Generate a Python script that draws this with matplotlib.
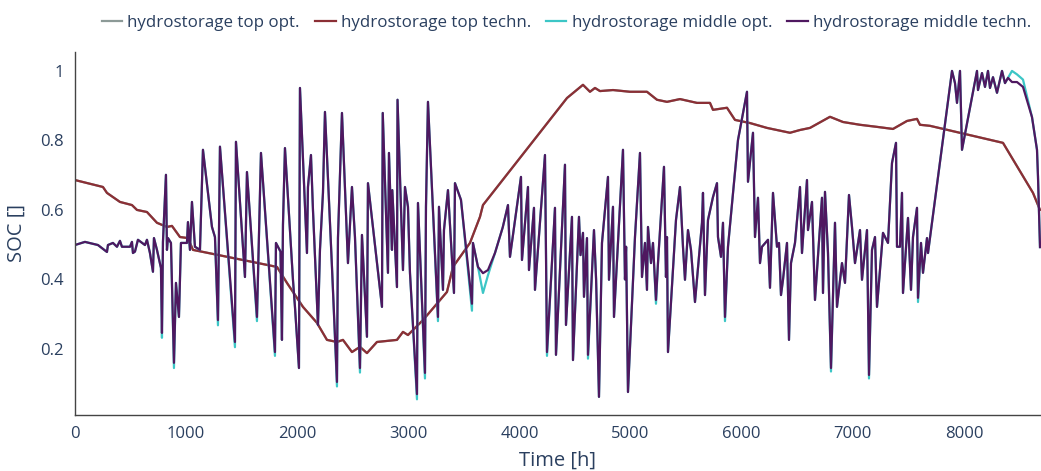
import matplotlib
matplotlib.use("Agg")
import matplotlib.pyplot as plt

# top reservoir (technical run); the optimisation run follows the same path
top_hours = [0, 252, 288, 405, 513, 558, 648, 738, 828, 873, 945, 1017, 1062,
             1818, 1908, 2052, 2178, 2268, 2358, 2412, 2493, 2565, 2628, 2718,
             2898, 2952, 2997, 3132, 3348, 3402, 3555, 3645, 3672, 4428, 4572,
             4635, 4680, 4725, 4842, 4995, 5148, 5238, 5328, 5445, 5598, 5715,
             5742, 5868, 5940, 6075, 6228, 6435, 6525, 6615, 6795, 6912, 7065,
             7218, 7362, 7488, 7578, 7605, 7695, 8352, 8622, 8685]
top_techn = [0.686, 0.666, 0.649, 0.623, 0.614, 0.600, 0.594, 0.563, 0.551,
             0.554, 0.522, 0.519, 0.485, 0.436, 0.390, 0.321, 0.275, 0.226,
             0.220, 0.226, 0.191, 0.206, 0.188, 0.220, 0.226, 0.249, 0.240,
             0.283, 0.364, 0.436, 0.505, 0.580, 0.614, 0.922, 0.960, 0.940,
             0.951, 0.942, 0.945, 0.940, 0.940, 0.917, 0.911, 0.919, 0.908,
             0.908, 0.888, 0.894, 0.859, 0.850, 0.836, 0.822, 0.830, 0.836,
             0.868, 0.853, 0.845, 0.839, 0.833, 0.856, 0.862, 0.845, 0.842,
             0.793, 0.649, 0.600]
top_opt = list(top_techn)

# middle reservoir (technical run)
mid_hours = [0, 90, 207, 288, 297, 342, 378, 405, 423, 495, 513, 522, 540, 567,
             630, 648, 675, 702, 711, 738, 774, 783, 792, 819, 828, 837, 864,
             891, 909, 936, 954, 1008, 1017, 1035, 1053, 1080, 1125, 1152, 1233,
             1260, 1287, 1305, 1440, 1449, 1530, 1548, 1638, 1674, 1800, 1809,
             1850, 1863, 1872, 1890, 1962, 1980, 2016, 2025, 2088, 2097, 2124,
             2142, 2187, 2205, 2232, 2250, 2313, 2358, 2367, 2403, 2457, 2493,
             2520, 2565, 2583, 2628, 2637, 2763, 2770, 2817, 2826, 2853, 2856,
             2898, 2903, 2952, 2970, 2997, 3015, 3078, 3087, 3150, 3159, 3177,
             3267, 3276, 3312, 3321, 3357, 3411, 3420, 3474, 3573, 3582, 3627,
             3672, 3717, 3780, 3850, 3897, 3915, 4014, 4023, 4077, 4086, 4131,
             4140, 4230, 4240, 4248, 4320, 4329, 4410, 4419, 4473, 4482, 4536,
             4550, 4572, 4581, 4608, 4617, 4671, 4690, 4716, 4743, 4797, 4806,
             4842, 4851, 4932, 4950, 4960, 4977, 5040, 5085, 5103, 5130, 5148,
             5157, 5184, 5202, 5229, 5247, 5301, 5319, 5328, 5337, 5409, 5445,
             5472, 5490, 5517, 5544, 5580, 5643, 5652, 5670, 5697, 5742, 5778,
             5787, 5814, 5832, 5850, 5877, 5967, 6048, 6057, 6102, 6120, 6147,
             6165, 6183, 6237, 6255, 6282, 6318, 6336, 6354, 6372, 6408, 6426,
             6444, 6480, 6525, 6543, 6588, 6597, 6633, 6660, 6723, 6732, 6750,
             6777, 6804, 6840, 6858, 6903, 6930, 6966, 6993, 7020, 7065, 7083,
             7128, 7146, 7173, 7200, 7218, 7272, 7317, 7353, 7389, 7398, 7425,
             7443, 7452, 7497, 7524, 7542, 7578, 7587, 7614, 7632, 7668, 7677,
             7893, 7920, 7938, 7965, 7983, 8118, 8127, 8163, 8190, 8217, 8235,
             8262, 8298, 8343, 8370, 8397, 8433, 8478, 8532, 8613, 8658, 8667,
             8685]
mid_techn = [0.499, 0.508, 0.499, 0.479, 0.499, 0.505, 0.494, 0.511, 0.494,
             0.494, 0.508, 0.476, 0.480, 0.514, 0.499, 0.514, 0.476, 0.422,
             0.519, 0.485, 0.433, 0.246, 0.508, 0.701, 0.485, 0.519, 0.505,
             0.160, 0.390, 0.292, 0.505, 0.505, 0.565, 0.485, 0.623, 0.494,
             0.485, 0.773, 0.551, 0.522, 0.283, 0.782, 0.220, 0.796, 0.407,
             0.709, 0.292, 0.764, 0.191, 0.505, 0.480, 0.226, 0.557, 0.778,
             0.399, 0.321, 0.145, 0.951, 0.476, 0.666, 0.758, 0.600, 0.269,
             0.485, 0.649, 0.882, 0.436, 0.105, 0.519, 0.879, 0.447, 0.666,
             0.522, 0.145, 0.528, 0.235, 0.677, 0.321, 0.879, 0.419, 0.764,
             0.485, 0.657, 0.378, 0.917, 0.427, 0.666, 0.609, 0.419, 0.070,
             0.620, 0.131, 0.609, 0.911, 0.292, 0.609, 0.370, 0.542, 0.657,
             0.361, 0.677, 0.629, 0.330, 0.505, 0.436, 0.418, 0.427, 0.476,
             0.550, 0.614, 0.465, 0.695, 0.456, 0.666, 0.427, 0.606, 0.370,
             0.758, 0.456, 0.191, 0.606, 0.183, 0.730, 0.269, 0.580, 0.168,
             0.580, 0.470, 0.534, 0.350, 0.519, 0.183, 0.542, 0.400, 0.062,
             0.505, 0.695, 0.399, 0.609, 0.292, 0.773, 0.400, 0.494, 0.076,
             0.522, 0.764, 0.407, 0.505, 0.370, 0.551, 0.447, 0.505, 0.341,
             0.447, 0.724, 0.407, 0.522, 0.191, 0.571, 0.666, 0.494, 0.399,
             0.542, 0.485, 0.335, 0.563, 0.649, 0.355, 0.571, 0.637, 0.677,
             0.522, 0.465, 0.563, 0.292, 0.494, 0.801, 0.940, 0.681, 0.822,
             0.522, 0.635, 0.447, 0.494, 0.514, 0.376, 0.649, 0.494, 0.505,
             0.355, 0.399, 0.505, 0.226, 0.447, 0.505, 0.666, 0.476, 0.686,
             0.542, 0.623, 0.341, 0.635, 0.361, 0.652, 0.476, 0.145, 0.563,
             0.321, 0.447, 0.390, 0.643, 0.551, 0.447, 0.542, 0.399, 0.542,
             0.125, 0.485, 0.522, 0.321, 0.534, 0.505, 0.735, 0.793, 0.494,
             0.494, 0.649, 0.361, 0.577, 0.370, 0.522, 0.606, 0.347, 0.505,
             0.419, 0.519, 0.476, 1.000, 0.965, 0.908, 1.000, 0.773, 1.000,
             0.945, 0.994, 0.954, 1.000, 0.951, 0.982, 0.937, 1.000, 0.965,
             0.980, 0.968, 0.968, 0.954, 0.867, 0.773, 0.695, 0.493]

# hours where the optimisation run of the middle reservoir differs
mid_opt_diff = {783: 0.232, 891: 0.145, 1287: 0.268, 1440: 0.205, 1638: 0.280,
                1800: 0.180, 2358: 0.092, 2565: 0.132, 3078: 0.055, 3150: 0.115,
                3267: 0.280, 3573: 0.310, 3672: 0.361, 3717: 0.412, 4248: 0.180,
                4617: 0.172, 5229: 0.330, 5850: 0.280, 6804: 0.135, 7146: 0.115,
                7587: 0.335, 8433: 1.000, 8478: 0.990, 8532: 0.975}
mid_opt = [mid_opt_diff.get(h, v) for h, v in zip(mid_hours, mid_techn)]

text_color = "#2a3f5f"
plt.rcParams["font.family"] = ["Open Sans", "DejaVu Sans"]

fig = plt.figure(figsize=(10.41, 4.71), dpi=100)
ax = fig.add_axes([0.072, 0.119, 0.928, 0.771])

ax.plot(top_hours, top_opt, color="#8c9a97", lw=1.6, label="hydrostorage top opt.")
ax.plot(top_hours, top_techn, color="#8b2f35", lw=1.6, label="hydrostorage top techn.")
ax.plot(mid_hours, mid_opt, color="#3cc6c6", lw=1.6, label="hydrostorage middle opt.")
ax.plot(mid_hours, mid_techn, color="#4f1860", lw=1.6, label="hydrostorage middle techn.")

ax.set_xlim(0, 8694)
ax.set_ylim(0.010, 1.055)
ax.set_xticks([0, 1000, 2000, 3000, 4000, 5000, 6000, 7000, 8000])
ax.set_yticks([0.2, 0.4, 0.6, 0.8, 1.0])
ax.set_yticklabels(["0.2", "0.4", "0.6", "0.8", "1"])
ax.tick_params(length=0, labelsize=12, labelcolor=text_color, pad=8)
for side in ["top", "right"]:
    ax.spines[side].set_visible(False)
for side in ["left", "bottom"]:
    ax.spines[side].set_color("#444444")
    ax.spines[side].set_linewidth(1)

ax.set_xlabel("Time [h]", fontsize=14.5, color=text_color, labelpad=6)
ax.set_ylabel("SOC []", fontsize=14.5, color=text_color, labelpad=10)

fig.legend(loc="upper right", bbox_to_anchor=(1.005, 1.0), ncol=4, frameon=False,
           fontsize=12.2, labelcolor=text_color, handlelength=1.2,
           handletextpad=0.3, columnspacing=0.9)

fig.savefig("out.png", dpi=100)
